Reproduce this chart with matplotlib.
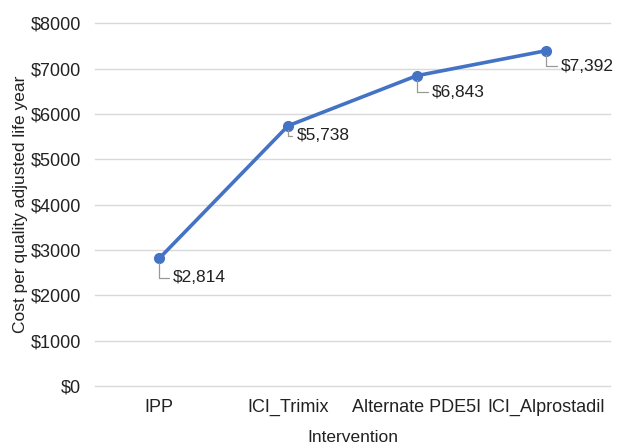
import matplotlib.pyplot as plt

plt.rcParams['font.family'] = ['Liberation Sans', 'DejaVu Sans']

interventions = ["IPP", "ICI_Trimix", "Alternate PDE5I", "ICI_Alprostadil"]
cost_per_qaly = [2814, 5738, 6843, 7392]
label_offsets = [(10, -14), (6, -7), (11, -12), (11, -11)]

fig = plt.figure(figsize=(6.2, 4.46), dpi=100)
ax = fig.add_axes([0.153, 0.1345, 0.831, 0.8135])

x = list(range(len(interventions)))
ax.plot(x, cost_per_qaly, color="#4472C4", linewidth=2.6, marker="o", markersize=7)

for xi, v, off in zip(x, cost_per_qaly, label_offsets):
    ax.annotate("${:,}".format(v), xy=(xi, v), xytext=off, textcoords="offset points",
                ha="left", va="center", fontsize=12.5, color="#222222",
                arrowprops=dict(arrowstyle="-", color="#999999", lw=0.9,
                                shrinkA=1, shrinkB=3,
                                connectionstyle="angle,angleA=0,angleB=90,rad=0"))

ax.set_xlim(-0.5, 3.5)
ax.set_ylim(0, 8000)
ax.set_yticks(range(0, 8001, 1000))
ax.set_yticklabels(["${}".format(t) for t in range(0, 8001, 1000)])
ax.set_xticks(x)
ax.set_xticklabels(interventions)
ax.tick_params(length=0, labelsize=13, colors="#222222", pad=10)
ax.tick_params(axis="x", pad=9)
ax.yaxis.grid(True, color="#d9d9d9", linewidth=1)
for gl in ax.get_ygridlines():
    gl.set_clip_on(False)
ax.set_axisbelow(True)
for s in ax.spines.values():
    s.set_visible(False)

ax.set_xlabel("Intervention", fontsize=12.5, color="#222222", labelpad=10)
ax.set_ylabel("Cost per quality adjusted life year", fontsize=12.5, color="#222222", labelpad=2)

fig.savefig("out.png", dpi=100)
